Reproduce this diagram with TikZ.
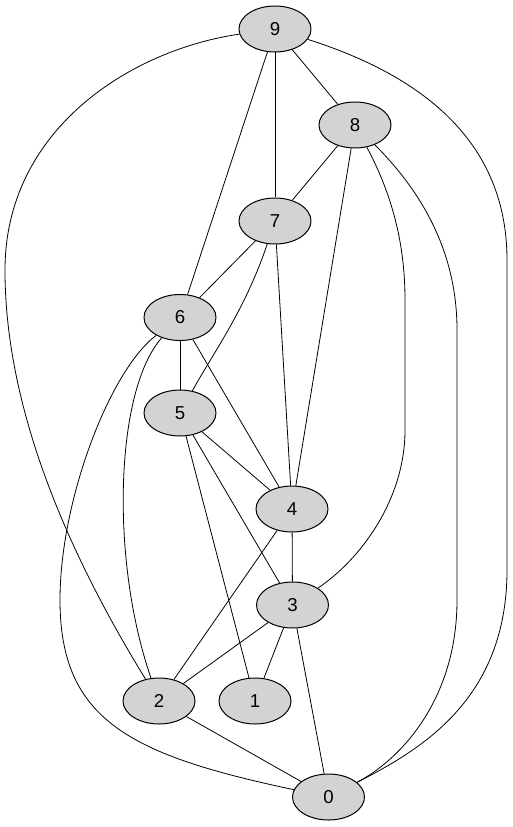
\documentclass[tikz,border=0pt]{standalone}
\usepackage{fontspec}
\setmainfont{Liberation Sans}
\usetikzlibrary{shapes.geometric}
\definecolor{vertexgray}{HTML}{D3D3D3}

\begin{document}
\begin{tikzpicture}[
  x=0.75pt,
  y=-0.75pt,
  line join=round,
  vertex/.style={ellipse,draw=black,fill=vertexgray,line width=0.75pt,
    minimum width=54pt,minimum height=34.5pt,inner sep=0pt,
    font=\fontsize{14}{16}\selectfont},
  graphedge/.style={draw=black,line width=0.6pt}
]
  % Match the artwork frame.
  \useasboundingbox (0,0) rectangle (512.000,827.000);

  % Vertices of the layered graph.
  \node[vertex] (n9) at (275.000,29.000) {9};
  \node[vertex] (n8) at (355.000,125.000) {8};
  \node[vertex] (n7) at (275.000,221.000) {7};
  \node[vertex] (n6) at (180.000,317.500) {6};
  \node[vertex] (n5) at (180.000,413.000) {5};
  \node[vertex] (n4) at (292.000,509.000) {4};
  \node[vertex] (n3) at (292.500,605.000) {3};
  \node[vertex] (n2) at (159.000,701.000) {2};
  \node[vertex] (n1) at (255.000,701.000) {1};
  \node[vertex] (n0) at (328.500,797.000) {0};

  % Straight edges.
  \foreach \a/\b in {n9/n8,n9/n7,n9/n6,n8/n7,n8/n4,n7/n6,n7/n4,n6/n5,n6/n4,
    n5/n4,n5/n3,n5/n1,n4/n3,n4/n2,n3/n2,n3/n1,n3/n0,n2/n0} {
    \draw[graphedge] (\a) -- (\b);
  }

  % Long spline edges bending round the outside.
  \draw[graphedge] (n9) .. controls (130.000,50.000) and (5.000,130.000) .. (5.000,270.000)
    .. controls (5.000,400.000) and (60.000,540.000) .. (n2);
  \draw[graphedge] (n9) .. controls (420.000,75.000) and (507.000,140.000) .. (507.000,260.000)
    -- (507.000,570.000) .. controls (507.000,700.000) and (420.000,750.000) .. (n0);
  \draw[graphedge] (n8) .. controls (420.000,190.000) and (457.000,250.000) .. (457.000,330.000)
    -- (457.000,600.000) .. controls (457.000,700.000) and (400.000,760.000) .. (n0);
  \draw[graphedge] (n8) .. controls (395.000,200.000) and (405.000,250.000) .. (405.000,300.000)
    -- (405.000,430.000) .. controls (405.000,500.000) and (360.000,560.000) .. (n3);
  \draw[graphedge] (n7) .. controls (245.000,310.000) and (215.000,350.000) .. (n5);
  \draw[graphedge] (n6) .. controls (115.000,390.000) and (110.000,560.000) .. (n2);
  \draw[graphedge] (n6) .. controls (110.000,370.000) and (60.000,500.000) .. (60.000,600.000)
    .. controls (60.000,720.000) and (130.000,755.000) .. (n0);
\end{tikzpicture}
\end{document}
